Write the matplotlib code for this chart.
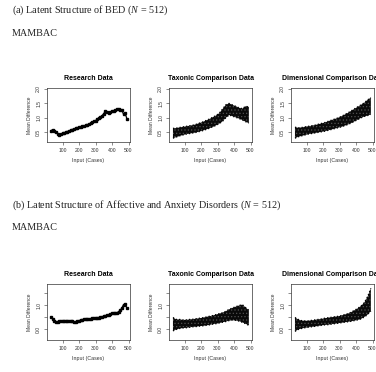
import numpy as np
import matplotlib
matplotlib.use('Agg')
import matplotlib.pyplot as plt

plt.rcParams['font.family'] = 'Liberation Sans'
plt.rcParams['mathtext.fontset'] = 'custom'
plt.rcParams['mathtext.rm'] = 'Liberation Serif'
plt.rcParams['mathtext.it'] = 'Liberation Serif:italic'
plt.rcParams['hatch.linewidth'] = 0.5

# --- data ---
# research curves (one point every 10 cases)
x_res = list(range(30, 500, 10))
bed_res = [0.56, 0.59, 0.56, 0.51, 0.46, 0.42, 0.44, 0.47, 0.49, 0.50,
           0.53, 0.55, 0.58, 0.60, 0.62, 0.64, 0.66, 0.67, 0.69, 0.71,
           0.73, 0.74, 0.75, 0.78, 0.82, 0.86, 0.88, 0.90, 0.96, 1.00,
           1.03, 1.08, 1.15, 1.23, 1.20, 1.18, 1.21, 1.23, 1.25, 1.27,
           1.30, 1.29, 1.28, 1.27, 1.12, 1.16, 0.97]
aff_res = [0.50, 0.42, 0.35, 0.30, 0.30, 0.33, 0.35, 0.35, 0.35, 0.34,
           0.34, 0.34, 0.33, 0.32, 0.30, 0.30, 0.33, 0.35, 0.37, 0.39,
           0.40, 0.40, 0.41, 0.42, 0.43, 0.44, 0.45, 0.46, 0.47, 0.48,
           0.49, 0.51, 0.54, 0.55, 0.57, 0.60, 0.63, 0.66, 0.67, 0.67,
           0.68, 0.72, 0.78, 0.88, 1.02, 1.04, 0.88]

# comparison clouds: lower / upper edge every 20 cases
x_cmp = list(range(30, 500, 20))
bed_tax_lo = [0.30, 0.34, 0.38, 0.41, 0.44, 0.46, 0.48, 0.50, 0.53, 0.56, 0.60, 0.64,
              0.69, 0.74, 0.80, 0.88, 1.00, 1.10, 1.06, 1.02, 0.98, 0.93, 0.87, 0.82]
bed_tax_hi = [0.64, 0.65, 0.67, 0.69, 0.71, 0.73, 0.75, 0.78, 0.82, 0.86, 0.91, 0.96,
              1.02, 1.08, 1.16, 1.30, 1.45, 1.50, 1.45, 1.40, 1.35, 1.32, 1.40, 1.38]
bed_dim_lo = [0.30, 0.35, 0.38, 0.41, 0.44, 0.46, 0.48, 0.50, 0.52, 0.54, 0.57, 0.60,
              0.63, 0.66, 0.69, 0.73, 0.77, 0.82, 0.88, 0.94, 1.00, 1.05, 1.08, 1.12]
bed_dim_hi = [0.68, 0.66, 0.67, 0.69, 0.71, 0.73, 0.75, 0.78, 0.81, 0.84, 0.88, 0.92,
              0.96, 1.00, 1.05, 1.11, 1.17, 1.24, 1.31, 1.38, 1.45, 1.52, 1.62, 1.70]
aff_tax_lo = [-0.08, -0.02, 0.02, 0.04, 0.05, 0.07, 0.09, 0.10, 0.12, 0.13, 0.15, 0.17,
              0.20, 0.22, 0.25, 0.28, 0.31, 0.35, 0.37, 0.36, 0.33, 0.28, 0.22, 0.15]
aff_tax_hi = [0.48, 0.40, 0.40, 0.38, 0.38, 0.40, 0.41, 0.43, 0.45, 0.47, 0.50, 0.53,
              0.56, 0.60, 0.64, 0.68, 0.74, 0.82, 0.88, 0.93, 0.98, 1.02, 0.90, 0.78]
aff_dim_lo = [-0.10, -0.02, 0.02, 0.05, 0.07, 0.09, 0.11, 0.13, 0.15, 0.17, 0.18, 0.20,
              0.22, 0.24, 0.26, 0.28, 0.30, 0.32, 0.35, 0.38, 0.42, 0.50, 0.60, 0.75]
aff_dim_hi = [0.48, 0.40, 0.35, 0.34, 0.34, 0.36, 0.38, 0.40, 0.42, 0.45, 0.47, 0.49,
              0.51, 0.53, 0.56, 0.60, 0.64, 0.70, 0.78, 0.86, 0.96, 1.10, 1.35, 1.70]

titles = ['Research Data', 'Taxonic Comparison Data', 'Dimensional Comparison Data']
xticks = [100, 200, 300, 400, 500]

fig = plt.figure(figsize=(3.76, 3.72), dpi=100)
W, H = 376.0, 372.0

def r_axes(left_px, top_px, bottom_px, ylim, yticks, ylabels, title):
    # R-like base graphics panel
    ax = fig.add_axes([left_px / W, 1 - bottom_px / H, 83 / W, (bottom_px - top_px) / H])
    ax.set_xlim(6, 509)
    ax.set_ylim(*ylim)
    ax.set_xticks(xticks)
    ax.set_xticklabels([str(t) for t in xticks])
    ax.set_yticks(yticks)
    ax.set_yticklabels(ylabels, rotation=90, va='center')
    ax.tick_params(length=2.2, width=0.4, labelsize=3.6, pad=2, color='#333333',
                   labelcolor='#333333')
    for s in ax.spines.values():
        s.set_linewidth(0.5)
        s.set_color('#333333')
    ax.set_xlabel('Input (Cases)', fontsize=3.8, color='#333333', labelpad=4)
    ax.set_ylabel('Mean Difference', fontsize=3.6, color='#333333', labelpad=3)
    ax.set_title(title, fontsize=5, fontweight='bold', pad=6)
    return ax

def cloud(ax, lo, hi):
    # dense band of points, drawn as a speckled black fill
    ax.fill_between(x_cmp, lo, hi, facecolor='#0a0a0a', edgecolor='#505050',
                    hatch='.....', linewidth=0)
    ax.plot(x_cmp, lo, ':', color='black', lw=0.9)
    ax.plot(x_cmp, hi, ':', color='black', lw=0.9)

lefts = [47, 169, 291]

# row (a)
top_ylim = (0.17, 2.03)
top_ticks = [0.5, 1.0, 1.5, 2.0]
top_lab = ['0.5', '1.0', '1.5', '2.0']
axs_a = [r_axes(l, 88, 142, top_ylim, top_ticks, top_lab, t) for l, t in zip(lefts, titles)]
axs_a[0].plot(x_res, bed_res, 's-', color='black', ms=1.9, lw=0.9)
cloud(axs_a[1], bed_tax_lo, bed_tax_hi)
cloud(axs_a[2], bed_dim_lo, bed_dim_hi)

# row (b)
bot_ylim = (-0.46, 1.88)
bot_ticks = [0.0, 0.5, 1.0, 1.5]
bot_lab = ['0.0', '', '1.0', '']
axs_b = [r_axes(l, 284, 340, bot_ylim, bot_ticks, bot_lab, t) for l, t in zip(lefts, titles)]
axs_b[0].plot(x_res, aff_res, 's-', color='black', ms=1.9, lw=0.9)
cloud(axs_b[1], aff_tax_lo, aff_tax_hi)
cloud(axs_b[2], aff_dim_lo, aff_dim_hi)

# headings
head_kw = dict(fontsize=7.3, family='Liberation Serif', va='center', ha='left', color='#222222')
fig.text(12 / W, 1 - 10 / H, r'(a) Latent Structure of BED ($\mathit{N}$ = 512)', **head_kw)
fig.text(12 / W, 1 - 34 / H, 'MAMBAC', **head_kw)
fig.text(12 / W, 1 - 205 / H, r'(b) Latent Structure of Affective and Anxiety Disorders ($\mathit{N}$ = 512)', **head_kw)
fig.text(12 / W, 1 - 228 / H, 'MAMBAC', **head_kw)

fig.savefig('out.png', dpi=100)
